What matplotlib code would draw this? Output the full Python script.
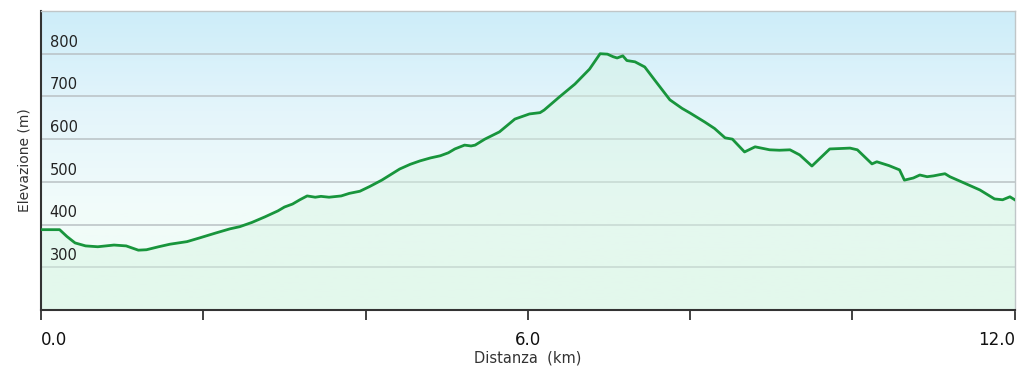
import numpy as np
import matplotlib
matplotlib.use("Agg")
import matplotlib.pyplot as plt
from matplotlib.colors import LinearSegmentedColormap

# elevation profile (km, m)
distance = [0.00, 0.23, 0.32, 0.42, 0.55, 0.70, 0.90, 1.05, 1.20, 1.30, 1.45, 1.59,
            1.80, 1.96, 2.15, 2.33, 2.45, 2.60, 2.76, 2.92, 3.00, 3.10, 3.19, 3.28,
            3.38, 3.45, 3.55, 3.70, 3.80, 3.93, 4.05, 4.20, 4.42, 4.55, 4.67, 4.80,
            4.92, 5.02, 5.10, 5.22, 5.30, 5.35, 5.47, 5.65, 5.84, 6.02, 6.15, 6.20,
            6.39, 6.58, 6.76, 6.89, 6.98, 7.05, 7.10, 7.17, 7.22, 7.32, 7.44, 7.56,
            7.75, 7.90, 8.00, 8.18, 8.30, 8.43, 8.52, 8.67, 8.80, 8.98, 9.10, 9.23,
            9.35, 9.50, 9.72, 9.85, 9.97, 10.06, 10.24, 10.30, 10.45, 10.58, 10.64,
            10.75, 10.83, 10.92, 11.00, 11.08, 11.14, 11.20, 11.32, 11.57, 11.75,
            11.85, 11.94, 12.00]
elevation = [388, 388, 372, 357, 350, 348, 352, 350, 340, 341, 348, 354,
             360, 369, 380, 390, 395, 405, 418, 432, 441, 448, 458, 467,
             464, 466, 464, 467, 473, 478, 489, 504, 530, 541, 549, 556,
             561, 568, 577, 586, 584, 586, 600, 617, 647, 659, 662, 668,
             699, 729, 764, 800, 799, 793, 790, 795, 784, 781, 769, 739,
             692, 672, 661, 640, 625, 603, 600, 570, 582, 575, 574, 575,
             563, 537, 577, 578, 579, 575, 542, 547, 538, 528, 504,
             509, 516, 512, 514, 517, 519, 512, 502, 481, 460, 458, 465, 458]

y_ticks = [300, 400, 500, 600, 700, 800]
x_ticks = [0, 2, 4, 6, 8, 10, 12]
x_labels = ["0.0", "", "", "6.0", "", "", "12.0"]

fig = plt.figure(figsize=(10.24, 3.73), dpi=100)
ax = fig.add_axes([0.040, 0.169, 0.951, 0.8015])
ax.set_xlim(0, 12)
ax.set_ylim(200, 900)

# background: light blue at top fading to pale green at the bottom
bg = LinearSegmentedColormap.from_list("bg", ["#eefcf5", "#f2fcfa", "#e4f5fb", "#cdedf9"])
ax.imshow(np.linspace(0, 1, 256).reshape(-1, 1), cmap=bg, origin="lower",
          aspect="auto", extent=[0, 12, 200, 900], zorder=0)

for v in y_ticks:
    ax.axhline(v, color="#b9c1c4", lw=1.1, zorder=1)

ax.fill_between(distance, 200, elevation, color="#d6f4e2", alpha=0.45, lw=0, zorder=2)
ax.plot(distance, elevation, color="#18953c", lw=2.0, zorder=3)

# y labels sit inside the plot, just above each grid line
for v in y_ticks:
    ax.annotate(str(v), xy=(0.009, v), xycoords=("axes fraction", "data"),
                xytext=(0, 3), textcoords="offset points",
                fontsize=10.5, color="#222222", va="bottom", ha="left")
ax.set_yticks([])
ax.set_ylabel("Elevazione (m)", fontsize=10, color="#333333", labelpad=7)

ax.set_xticks(x_ticks)
ax.set_xticklabels(x_labels, fontsize=12, color="#111111")
ax.tick_params(axis="x", direction="out", length=7, width=1.3, color="#333333", pad=8)
lbls = ax.get_xticklabels()
lbls[0].set_ha("left")
lbls[-1].set_ha("right")
ax.set_xlabel("Distanza  (km)", fontsize=10.5, color="#333333", labelpad=1)

for side in ["top", "right"]:
    ax.spines[side].set_color("#c0c6c8")
    ax.spines[side].set_linewidth(1.0)
for side in ["left", "bottom"]:
    ax.spines[side].set_color("#333333")
    ax.spines[side].set_linewidth(1.5)

fig.savefig("out.png", dpi=100)
